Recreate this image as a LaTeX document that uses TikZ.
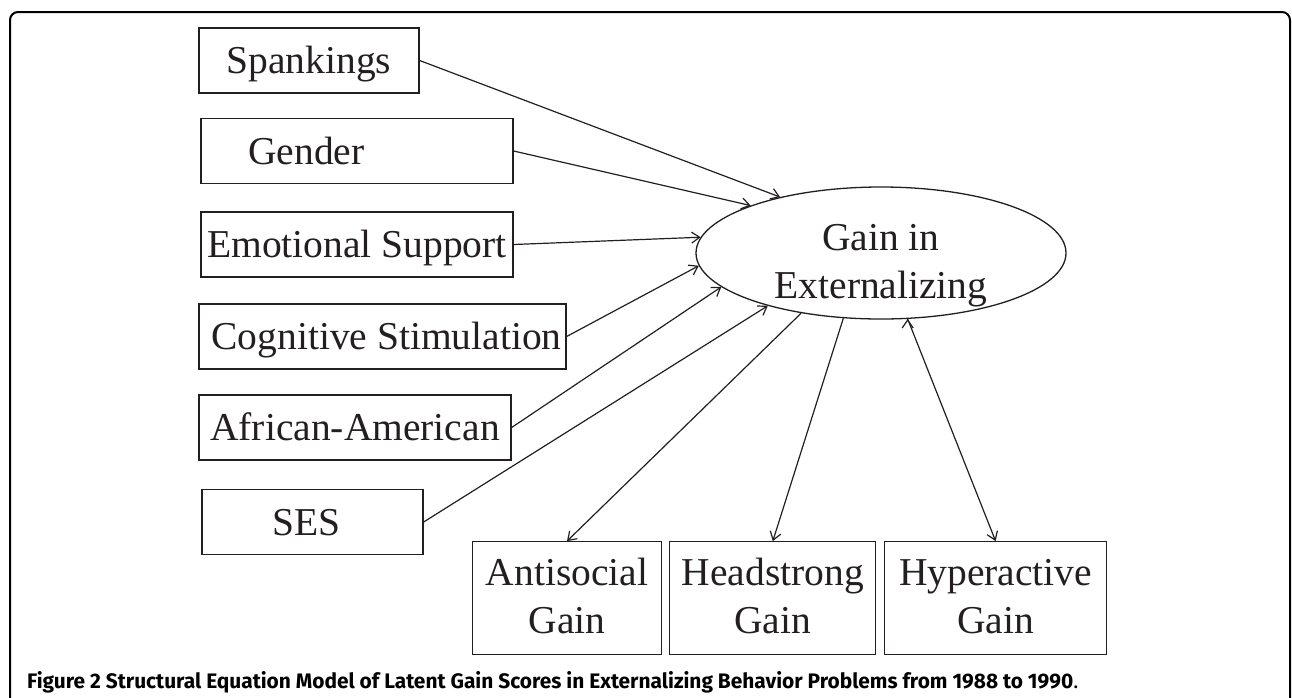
\documentclass[tikz,border=0pt]{standalone}
\usepackage{fontspec}
\setmainfont{Liberation Serif}
\newfontfamily\capfont{Fira Sans}
\usetikzlibrary{arrows.meta,positioning,shapes.geometric}
\definecolor{ink}{RGB}{35,31,32}
% two centred lines, first baseline raised by #1 above the node centre
\newcommand{\stacktxt}[3]{\raisebox{#1}[0pt][0pt]{\begin{tabular}[t]{@{}c@{}}#2\\#3\end{tabular}}}
\tikzset{
    inbox/.style =  {rectangle,
                    fill=white,
                    draw=ink,
                    text=ink,
                    line width=1.3pt,
                    minimum height=65pt,
                    text height=32pt,
                    text depth=6pt,
                    inner sep=0pt,
                    font=\fontsize{39.5}{48}\selectfont},
    latent/.style = {ellipse,
                    fill=white,
                    draw=ink,
                    text=ink,
                    line width=1.3pt,
                    minimum width=370pt,
                    minimum height=132pt,
                    inner sep=0pt,
                    font=\fontsize{39.5}{48}\selectfont},
    outbox/.style = {rectangle,
                    fill=white,
                    draw=ink,
                    text=ink,
                    line width=1.3pt,
                    minimum height=112.5pt,
                    inner sep=0pt,
                    font=\fontsize{39.5}{48}\selectfont},
    link/.style =   {line width=1.2pt,
                    draw=ink},
    >={Straight Barb[length=8pt,width=11pt]}}

\begin{document}
\begin{tikzpicture}[x=1pt,y=-1pt]
    \useasboundingbox (0,0) rectangle (1292,697);
    \draw[line width=2pt,rounded corners=8pt] (10,12) rectangle (1290,740);
    % predictors
    \node[inbox]    (span) [minimum width=220pt] at (309,60.5)    {Spankings};
    \node[inbox]    (gend) [minimum width=312pt] at (357,151)     {Gender\hspace*{101pt}};
    \node[inbox]    (emot) [minimum width=312pt] at (357,244.5)   {Emotional Support};
    \node[inbox]    (cogn) [minimum width=367pt] at (382.5,336.5) {\hspace*{8pt}Cognitive Stimulation};
    \node[inbox]    (afam) [minimum width=312pt] at (355,427.5)   {African-American};
    \node[inbox]    (ses)  [minimum width=221pt] at (312.5,522)   {SES\hspace*{12pt}};
    % latent gain
    \node[latent]   (gain) at (881,253) {\stacktxt{3pt}{Gain in}{Externalizing}};
    % indicators
    \node[outbox]   (anti) [minimum width=189pt] at (567,598) {\stacktxt{13pt}{Antisocial}{Gain}};
    \node[outbox]   (head) [minimum width=206pt,right=7pt of anti] {\stacktxt{13pt}{Headstrong}{Gain}};
    \node[outbox]   (hype) [minimum width=222pt,right=7.5pt of head] {\stacktxt{13pt}{Hyperactive}{Gain}};
    \path [link,->] (span.east) edge (gain.151)
                    (gend.east) edge (gain.160.5)
                    (emot.east) edge (gain.175)
                    (cogn.east) edge (gain.184.7)
                    (afam.east) edge (gain.192.4)
                    (ses.east)  edge (gain.205.5)
                    (gain.217.7) edge (anti.north)
                    (gain.240.1) edge (head.north)
                    (gain.292.7) edge (hype.north);
    \node[anchor=base west,inner sep=0pt] (cap) at (27,688)
        {\capfont\fontsize{21}{25}\selectfont\resizebox{1046pt}{\height}{\bfseries Figure 2 Structural Equation Model of Latent Gain Scores in Externalizing Behavior Problems from 1988 to 1990}.};
\end{tikzpicture}
\end{document}
